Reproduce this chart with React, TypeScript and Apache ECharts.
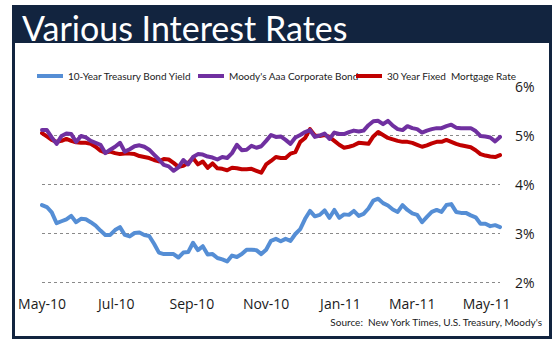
import React, { useEffect, useRef } from "react";
import * as echarts from "echarts";

const START = [2010, 4, 1];
const STEP_DAYS = 4;

const treasury10y = [
  3.57, 3.53, 3.42, 3.20, 3.24, 3.28, 3.35, 3.22, 3.29, 3.28,
  3.22, 3.15, 3.05, 2.96, 2.96, 3.06, 3.12, 2.96, 2.93, 3.00,
  3.01, 2.96, 2.94, 2.78, 2.60, 2.57, 2.57, 2.57, 2.50, 2.60,
  2.61, 2.80, 2.65, 2.73, 2.56, 2.57, 2.49, 2.46, 2.42, 2.54,
  2.51, 2.57, 2.66, 2.66, 2.65, 2.57, 2.66, 2.84, 2.88, 2.83,
  2.88, 2.84, 2.98, 3.08, 3.29, 3.45, 3.34, 3.37, 3.46, 3.31,
  3.47, 3.31, 3.38, 3.37, 3.45, 3.35, 3.39, 3.50, 3.66, 3.70,
  3.61, 3.56, 3.48, 3.43, 3.57, 3.47, 3.40, 3.37, 3.22, 3.33,
  3.43, 3.47, 3.43, 3.57, 3.59, 3.43, 3.41, 3.41, 3.36, 3.32,
  3.19, 3.19, 3.14, 3.16, 3.12,
];

const moodysAaa = [
  5.10, 5.10, 4.95, 4.82, 4.98, 5.03, 5.02, 4.86, 4.98, 4.95,
  4.88, 4.84, 4.80, 4.63, 4.70, 4.76, 4.84, 4.66, 4.71, 4.77,
  4.79, 4.76, 4.70, 4.60, 4.50, 4.39, 4.36, 4.27, 4.34, 4.49,
  4.40, 4.55, 4.61, 4.60, 4.56, 4.54, 4.50, 4.55, 4.53, 4.63,
  4.80, 4.69, 4.70, 4.78, 4.74, 4.77, 4.88, 5.00, 4.96, 4.97,
  4.90, 4.82, 4.95, 5.00, 5.06, 5.10, 4.96, 4.99, 5.03, 4.92,
  5.05, 5.02, 5.02, 5.06, 5.09, 5.07, 5.09, 5.20, 5.28, 5.29,
  5.22, 5.29, 5.19, 5.12, 5.10, 5.18, 5.14, 5.12, 5.05, 5.09,
  5.12, 5.14, 5.14, 5.18, 5.21, 5.15, 5.14, 5.14, 5.14, 5.08,
  4.98, 4.97, 4.95, 4.87, 4.96,
];

const mortgage30y = [
  5.04, 4.97, 4.90, 4.86, 4.88, 4.92, 4.88, 4.85, 4.84, 4.84,
  4.82, 4.76, 4.68, 4.64, 4.66, 4.63, 4.61, 4.62, 4.62, 4.61,
  4.57, 4.55, 4.53, 4.49, 4.46, 4.51, 4.50, 4.43, 4.35, 4.37,
  4.43, 4.53, 4.40, 4.46, 4.33, 4.42, 4.32, 4.31, 4.28, 4.33,
  4.32, 4.30, 4.30, 4.31, 4.27, 4.23, 4.40, 4.47, 4.55, 4.53,
  4.53, 4.62, 4.65, 4.86, 4.94, 5.12, 4.99, 4.98, 5.00, 4.96,
  4.88, 4.80, 4.74, 4.76, 4.79, 4.84, 4.83, 4.82, 4.97, 5.06,
  5.00, 4.94, 4.91, 4.88, 4.86, 4.86, 4.84, 4.80, 4.76, 4.79,
  4.83, 4.86, 4.86, 4.90, 4.86, 4.82, 4.79, 4.77, 4.75, 4.69,
  4.61, 4.58, 4.56, 4.55, 4.59,
];

const seriesNames = [
  "10-Year Treasury Bond Yield",
  "Moody's Aaa Corporate Bond",
  "30 Year Fixed  Mortgage Rate",
];
const seriesColors = ["#558ED5", "#7030A0", "#C00000"];

const xTickLabels = ["May-10", "Jul-10", "Sep-10", "Nov-10", "Jan-11", "Mar-11", "May-11"];
const xTickDates = [
  [2010, 4, 1], [2010, 6, 1], [2010, 8, 1], [2010, 10, 1],
  [2011, 0, 1], [2011, 2, 1], [2011, 4, 1],
];
const xEndDate = [2011, 4, 12];

const yMin = 2;
const yMax = 6;
const yInterval = 1;

const sourceText = "Source:  New York Times, U.S. Treasury, Moody's";
const titleText = "Various Interest Rates";

const NAVY = "#12243F";
const DAY = 86400000;

function dayOffset(d: number[]) {
  const a = Date.UTC(START[0], START[1], START[2]);
  const b = Date.UTC(d[0], d[1], d[2]);
  return Math.round((b - a) / DAY);
}

export default function App() {
  const ref = useRef<HTMLDivElement>(null);
  useEffect(() => {
    if (!ref.current) return;
    const chart = echarts.init(ref.current, null, { renderer: "svg" });
    const toPairs = (vals: number[]) => vals.map((v, i) => [i * STEP_DAYS, v]);
    const tickDays = xTickDates.map((d) => dayOffset(d));
    const allSeries = [treasury10y, moodysAaa, mortgage30y];
    const legendLefts = [37, 198, 356];

    chart.setOption({
      animation: false,
      backgroundColor: "#ffffff",
      grid: { left: 42, right: 53, top: 86, bottom: 58, containLabel: false },
      legend: seriesNames.map((n, i) => ({
        data: [n],
        left: legendLefts[i],
        top: 71,
        icon: "rect",
        itemWidth: 26,
        itemHeight: 4,
        itemGap: 4,
        padding: 0,
        textStyle: { fontFamily: "Lato", fontSize: 10, color: "#222" },
      })),
      xAxis: {
        type: "value",
        min: 0,
        max: dayOffset(xEndDate),
        axisLine: { show: false },
        axisTick: { show: false },
        splitLine: { show: false },
        axisLabel: {
          customValues: tickDays,
          hideOverlap: false,
          showMinLabel: true,
          showMaxLabel: true,
          margin: 14,
          fontFamily: "Open Sans",
          fontSize: 14,
          color: "#1a1a1a",
          formatter: (v: number) => {
            const idx = tickDays.indexOf(Math.round(v));
            return idx >= 0 ? xTickLabels[idx] : "";
          },
        },
      },
      yAxis: {
        type: "value",
        position: "right",
        min: yMin,
        max: yMax,
        interval: yInterval,
        axisLine: { show: false },
        axisTick: { show: false },
        axisLabel: {
          formatter: "{value}%",
          margin: 15,
          fontFamily: "Open Sans",
          fontSize: 14,
          color: "#1a1a1a",
        },
        splitLine: {
          show: true,
          showMaxLine: false,
          lineStyle: {
            type: [3, 3],
            width: 1,
            color: "#8a8a8a",
          },
        },
      },
      series: allSeries.map((vals, i) => ({
        name: seriesNames[i],
        type: "line",
        data: toPairs(vals),
        showSymbol: false,
        symbol: "none",
        smooth: false,
        color: seriesColors[i],
        lineStyle: { width: 4, color: seriesColors[i], join: "round", cap: "round" },
        z: 3 + (2 - i),
      })),
      graphic: [
        {
          type: "rect",
          z: -10,
          silent: true,
          shape: { x: 12, y: 5, width: 540, height: 334 },
          style: { fill: NAVY },
        },
        {
          type: "rect",
          z: -9,
          silent: true,
          shape: { x: 15, y: 43, width: 534, height: 293 },
          style: { fill: "#ffffff" },
        },
        {
          type: "text",
          z: 10,
          x: 22,
          y: 27,
          style: {
            text: titleText,
            fill: "#ffffff",
            font: "34px Lato",
            verticalAlign: "middle",
            align: "left",
          },
        },
        {
          type: "text",
          z: 10,
          x: 542,
          y: 322,
          style: {
            text: sourceText,
            fill: "#1a1a1a",
            font: "10px Lato",
            verticalAlign: "middle",
            align: "right",
          },
        },
      ],
    });
    return () => chart.dispose();
  }, []);

  return (
    <div
      ref={ref}
      style={{ position: "fixed", left: 0, top: 0, width: 553, height: 340, background: "#fff" }}
    />
  );
}
